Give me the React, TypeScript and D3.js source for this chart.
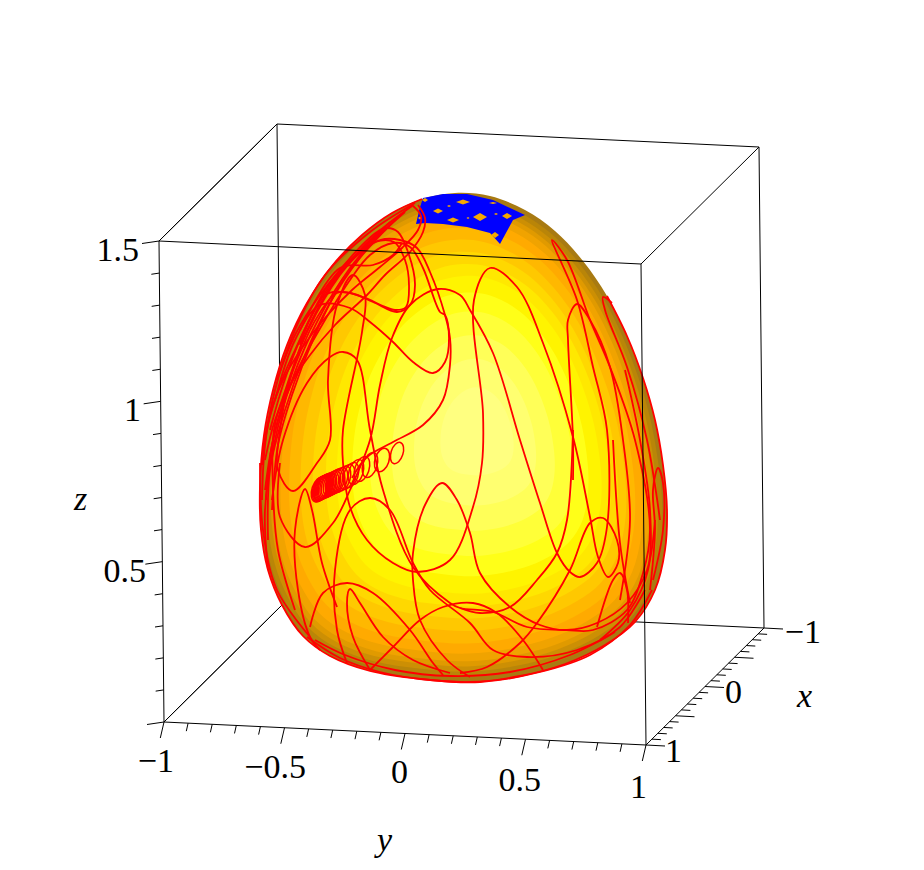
import * as d3 from "d3";

type Pair = [number, number];

// box axes
const xDomain = [-1, 1];
const yDomain = [-1, 1];
const zDomain = [0, 1.5];
const xMajor = [-1, -0.5, 0, 0.5, 1];
const yMajor = [-1, -0.5, 0, 0.5, 1];
const zMajor = [0, 0.5, 1, 1.5];
const xMinor = d3.range(-10, 11).map((d) => d / 10);
const yMinor = d3.range(-10, 11).map((d) => d / 10);
const zMinor = d3.range(0, 16).map((d) => d / 10);

// surface outline and every trace in view-plane units
const eggOutline: Pair[] = [[55,507],[90,504],[125,490],[155,469],[183,439],[207,404],[227,364],[243,322],[255,280],[263,235],[267,190],[265,150],[255,110],[235,78],[205,55],[165,36],[120,24],[70,18],[20,21],[-30,29],[-70,44],[-97,64],[-118,95],[-132,130],[-139,170],[-140,215],[-136,265],[-127,310],[-113,355],[-93,397],[-68,434],[-38,465],[-8,487],[22,501]];
const bandFactors = [1, 0.98, 0.96, 0.94, 0.92, 0.89, 0.85, 0.8, 0.75, 0.7, 0.65, 0.58, 0.5, 0.4, 0.3, 0.18];
const bandColors = ["#a87a12", "#b98508", "#cc8f04", "#e09a00", "#f0a300", "#ffaa00", "#ffb800", "#ffc800", "#ffd800", "#ffe800", "#fff400", "#ffff18", "#ffff38", "#ffff58", "#ffff70", "#ffff80"];
const highlight: Pair = [80, 270];
const rimCentre: Pair = [30, 280];

const strandA: Pair[] = [[-48,222],[-33,243],[-7,258],[23,275],[43,300],[50,335],[50,362],[45,385],[30,428],[17,452],[0,460],[-20,460],[-33,452],[-50,438],[-65,422],[-88,385],[-105,350],[-120,315],[-132,275],[-138,235]];
const strandB: Pair[] = [[-125,300],[-105,360],[-80,395],[-50,392],[-30,378],[-7,358],[13,338],[33,327],[45,338],[49,362],[45,385],[40,388],[23,432],[10,453],[-7,457],[-30,445],[-50,420],[-75,380],[-100,335],[-117,295],[-128,255],[-135,210]];
const hookA: Pair[] = [[18,495],[25,482],[23,468],[10,448],[-15,425],[-33,405],[-65,375],[-90,345],[-110,315],[-125,280],[-135,240]];
const hookB: Pair[] = [[12,495],[21,484],[18,470],[2,452],[-20,433],[-48,410],[-75,382],[-98,352],[-117,320],[-130,285],[-137,250]];
const loopC: Pair[] = [[-100,355],[-75,405],[-50,407],[-27,398],[-3,388],[10,395],[15,415],[8,448],[-2,468],[-13,472],[-23,468],[-50,442],[-75,410],[-100,360],[-117,315],[-130,270]];
const loopD: Pair[] = [[-90,370],[-63,407],[-37,403],[-17,394],[-5,390],[6,393],[9,415],[5,440],[-6,458],[-25,458],[-50,440],[-80,405],[-105,365],[-123,320]];
const arcTop: Pair[] = [[-100,370],[-60,432],[-27,435],[-7,445],[2,457]];
const longTrace: Pair[] = [[-120,237],[-120,183],[-95,153],[-67,177],[-50,210],[-30,260],[-20,315],[-8,362],[10,395],[38,411],[60,405],[70,390],[93,347],[120,260],[140,197],[157,147],[170,128],[180,123],[197,137],[207,173],[207,270],[193,333],[177,400],[152,460],[167,440],[190,380],[210,333],[235,260],[250,170],[243,127],[227,90],[193,70],[167,70],[127,73],[93,88],[60,92],[50,97],[13,133],[-17,210],[-30,270],[-43,340],[-57,348],[-70,343],[-93,317],[-117,260],[-128,200]];
const bumpTrace: Pair[] = [[60,27],[87,33],[120,57],[137,77],[170,130],[190,177],[203,182],[217,160],[218,137],[208,123],[198,143],[190,183],[173,263],[143,357],[117,413],[90,432],[74,400],[83,287],[82,237],[73,193],[50,140],[17,128],[-7,137],[-33,160],[-50,193],[-57,237],[-57,270],[-38,368],[-35,405],[-47,425],[-63,395],[-72,320],[-70,260],[-83,237],[-107,209],[-122,230],[-120,270],[-110,320],[-90,370]];
const lowBumpA: Pair[] = [[-53,37],[-63,70],[-65,130],[-50,190],[-30,202],[-10,190],[13,137],[30,110],[70,77],[93,50],[127,43],[177,50],[220,73],[245,110]];
const lowBumpB: Pair[] = [[70,23],[47,40],[20,80],[13,120],[13,147],[25,195],[42,217],[57,200],[70,167],[80,127],[110,93],[140,75],[167,70],[197,77],[227,97],[247,130],[255,180]];
const arcC: Pair[] = [[173,270],[167,180],[157,147],[137,120],[110,93],[80,87],[60,92]];
const lowArc: Pair[] = [[-90,73],[-77,107],[-53,117],[-27,107],[10,70],[33,37],[43,25]];
const bump350: Pair[] = [[-30,30],[-47,63],[-53,97],[-50,111],[-40,97],[-17,63],[13,40],[50,27]];
const riseArc: Pair[] = [[-30,30],[-7,53],[20,80],[43,93],[73,97],[97,87],[123,60],[143,30]];
const bump305: Pair[] = [[-80,50],[-90,63],[-102,110],[-105,170],[-95,211],[-88,190],[-78,137],[-63,93]];
const peak620: Pair[] = [[197,73],[213,120],[220,127],[227,110],[228,77]];
const line613: Pair[] = [[213,260],[220,157],[230,97]];
const peak577: Pair[] = [[173,220],[173,260],[168,360],[168,380],[177,396],[190,380],[210,333],[223,260],[230,180],[220,100]];
const peak603: Pair[] = [[260,180],[247,260],[227,333],[205,390],[203,403],[212,397]];
const loop658: Pair[] = [[253,120],[263,170],[263,217],[258,232],[253,210],[255,170],[250,110]];
const rightRim: Pair[] = [[225,330],[240,260],[250,190],[248,130],[230,90],[200,60]];
const bottomA: Pair[] = [[-93,63],[-60,42],[-20,28],[30,20],[80,18],[140,28],[190,45],[230,75],[252,110]];
const bottomB: Pair[] = [[-85,60],[-55,45],[-5,30],[50,24],[110,28],[170,45],[215,68]];
const fan1: Pair[] = [[15,497],[-30,468],[-75,425],[-105,370],[-125,310],[-135,255],[-138,200]];
const fan2: Pair[] = [[12,494],[-25,465],[-65,420],[-95,365],[-115,305],[-128,255],[-134,200]];
const fan3: Pair[] = [[5,488],[-28,457],[-60,415],[-85,365],[-108,305],[-122,255],[-128,190]];
const fan4: Pair[] = [[0,485],[-40,442],[-70,397],[-95,345],[-115,290],[-130,230],[-132,160]];
const fan5: Pair[] = [[-10,478],[-50,432],[-82,380],[-108,320],[-125,260],[-135,190],[-132,130]];
const fan6: Pair[] = [[-18,470],[-60,425],[-92,370],[-113,315],[-126,270],[-127,210],[-122,150],[-105,90]];
const leftLow: Pair[] = [[-140,237],[-137,170],[-123,110],[-90,63]];
const traces = [strandA, strandB, hookA, hookB, loopC, loopD, arcTop, longTrace, bumpTrace, lowBumpA, lowBumpB, arcC, lowArc, bump350, riseArc, bump305, peak620, line613, peak577, peak603, loop658, rightRim, bottomA, bottomB, fan1, fan2, fan3, fan4, fan5, fan6, leftLow];

// coil: centre u, centre v, radius u, radius v of each turn
const coilTurns: number[][] = [[-3,247,6,11],[-18,240,7,12],[-30,235,7,13],[-38,231,7,13],[-44,228,7,13],[-49,225,7,13],[-53,223,7,13],[-57,221.5,7,13],[-60,220,7,13],[-63,219,7,13],[-65,218,7,13],[-67,217,7,13],[-69,216,7,13],[-71,215,7,13],[-72.5,214.5,7,13],[-74,214,7,13],[-75,213.5,7,13],[-76,213,7,13],[-77,212.5,7,13],[-78,212,7,13],[-78.5,211.8,7,13],[-79,211.5,7,13],[-80,211,7,13],[-81,210.5,7,13]];

// blue cap and the gaps in it (centre u, centre v, half width, half height)
const capOutline: Pair[] = [[23,502],[43,506],[67,506],[93,500],[125,485],[113,480],[100,456],[90,467],[67,473],[43,476],[25,477],[16,476],[20,493]];
const capGaps: number[][] = [[63,498,7,2.5],[80,483,7,4],[107,484,5,3],[95,465,4,3],[53,480,6,2.5],[38,489,5,2.5],[49,494,2,1],[93,497,4,1],[25,500,3,2],[20,482,2,1.5],[68,482,1.5,1],[96,486,2,1]];

// view plane
const planeU = d3.scaleLinear().domain([-400, 524]).range([0, 924]);
const planeV = d3.scaleLinear().domain([700, -170]).range([0, 870]);

// box projection, one scale per axis and screen direction
const xPx = d3.scaleLinear().domain(xDomain).range([59, -59]);
const xPy = d3.scaleLinear().domain(xDomain).range([-58.5, 58.5]);
const yPx = d3.scaleLinear().domain(yDomain).range([-241, 241]);
const yPy = d3.scaleLinear().domain(yDomain).range([-11.5, 11.5]);
const zPx = d3.scaleLinear().domain(zDomain).range([0, -5]);
const zPy = d3.scaleLinear().domain(zDomain).range([0, -481]);
const project = (x: number, y: number, z: number): Pair => [
  464 + xPx(x) + yPx(y) + zPx(z),
  675 + xPy(x) + yPy(y) + zPy(z),
];

const toPlane = (p: Pair): Pair => [planeU(p[0]), planeV(p[1])];
const smooth = d3.line().curve(d3.curveCatmullRom.alpha(0.5));
const closed = d3.line().curve(d3.curveCatmullRomClosed.alpha(0.5));
const straightClosed = d3.line().curve(d3.curveLinearClosed);

const edge = (a: Pair, b: Pair, key: string, width = 1) => (
  <line key={key} x1={a[0]} y1={a[1]} x2={b[0]} y2={b[1]} stroke="#000" strokeWidth={width} />
);

const isMajor = (v: number, list: number[]) => list.some((m) => Math.abs(m - v) < 1e-6);

const backEdges: [number, number, number, number, number, number][] = [
  [-1, -1, 1.5, 1, -1, 1.5],
  [-1, -1, 1.5, -1, -1, 0],
  [-1, 1, 1.5, -1, 1, 0],
  [-1, -1, 0, 1, -1, 0],
  [-1, -1, 0, -1, 1, 0],
  [-1, -1, 1.5, -1, 1, 1.5],
  [1, -1, 1.5, -1, -1, 1.5],
  [1, 1, 1.5, -1, 1, 1.5],
  [1, -1, 0, -1, -1, 0],
];
const frontEdges: [number, number, number, number, number, number][] = [
  [1, -1, 1.5, 1, 1, 1.5],
  [1, 1, 1.5, 1, 1, 0],
  [1, -1, 1.5, 1, -1, 0],
  [1, -1, 0, 1, 1, 0],
  [1, 1, 0, -1, 1, 0],
];

const serif = "'Liberation Serif', 'Times New Roman', serif";

const labels: { t: string; x: number; y: number }[] = [
  { t: "1.5", x: 139, y: 261 },
  { t: "1", x: 141, y: 421 },
  { t: "0.5", x: 146, y: 582 },
  { t: "\u22121", x: 174, y: 772 },
  { t: "\u22120.5", x: 306, y: 778 },
  { t: "0", x: 408, y: 783 },
  { t: "0.5", x: 541, y: 791 },
  { t: "1", x: 647, y: 798 },
  { t: "\u22121", x: 821, y: 643 },
  { t: "0", x: 742, y: 703 },
  { t: "1", x: 682, y: 762 },
];
const axisNames: { t: string; x: number; y: number }[] = [
  { t: "x", x: 797, y: 707 },
  { t: "y", x: 377, y: 851 },
  { t: "z", x: 74, y: 510 },
];

export default function App() {
  const outlinePx = eggOutline.map(toPlane);
  const rim = outlinePx.slice(5);
  // band centre drifts from the highlight to the rim centre as bands grow
  const bandU = d3.scaleLinear().domain([0, 0.7, 1]).range([highlight[0], highlight[0], rimCentre[0]]);
  const bandV = d3.scaleLinear().domain([0, 0.7, 1]).range([highlight[1], highlight[1], rimCentre[1]]);

  return (
    <svg width={924} height={870} style={{ position: "absolute", left: 0, top: 0, background: "#fff" }}>
      <g>{backEdges.map((e, i) => edge(project(e[0], e[1], e[2]), project(e[3], e[4], e[5]), `b${i}`))}</g>

      <g>
        {bandFactors.map((f, i) => {
          const [cx, cy] = toPlane([bandU(f), bandV(f)]);
          return (
            <path
              key={i}
              d={closed(outlinePx.map((p) => [cx + (p[0] - cx) * f, cy + (p[1] - cy) * f] as Pair)) || ""}
              fill={bandColors[i]}
            />
          );
        })}
      </g>

      <path d={straightClosed(capOutline.map(toPlane)) || ""} fill="#0000ff" />
      <g fill="#f5a800">
        {capGaps.map((g, i) => {
          const [cx, cy] = toPlane([g[0], g[1]]);
          return <path key={i} d={`M${cx - g[2]},${cy}L${cx},${cy - g[3]}L${cx + g[2]},${cy}L${cx},${cy + g[3]}Z`} />;
        })}
      </g>

      <g fill="none" stroke="#ff0000" strokeWidth={1.8}>
        <path d={smooth(rim) || ""} />
        {traces.map((t, i) => (
          <path key={i} d={smooth(t.map(toPlane)) || ""} />
        ))}
        {coilTurns.map((c, i) => {
          const [cx, cy] = toPlane([c[0], c[1]]);
          return <ellipse key={i} cx={cx} cy={cy} rx={c[2]} ry={c[3]} transform={`rotate(18 ${cx} ${cy})`} strokeWidth={1.5} />;
        })}
      </g>

      <g>{frontEdges.map((e, i) => edge(project(e[0], e[1], e[2]), project(e[3], e[4], e[5]), `f${i}`))}</g>

      <g stroke="#000" strokeWidth={1}>
        {zMinor.map((z) => {
          const [px, py] = project(1, -1, z);
          const big = isMajor(z, zMajor);
          return <line key={`z${z}`} x1={px} y1={py} x2={px - (big ? 17 : 8)} y2={py + (big ? 2.5 : 1.2)} />;
        })}
        {yMinor.map((y) => {
          const [px, py] = project(1, y, 0);
          const big = isMajor(y, yMajor);
          return <line key={`y${y}`} x1={px} y1={py} x2={px - (big ? 3.7 : 1.8)} y2={py + (big ? 16 : 8)} />;
        })}
        {xMinor.map((x) => {
          const [px, py] = project(x, 1, 0);
          const big = isMajor(x, xMajor);
          return <line key={`x${x}`} x1={px} y1={py} x2={px + (big ? 19 : 9)} y2={py + (big ? 1 : 0.5)} />;
        })}
      </g>

      <g fontFamily={serif} fontSize={34} fill="#000" textAnchor="end">
        {labels.map((l, i) => (
          <text key={i} x={l.x} y={l.y}>{l.t}</text>
        ))}
      </g>
      <g fontFamily={serif} fontSize={34} fontStyle="italic" fill="#000">
        {axisNames.map((l) => (
          <text key={l.t} x={l.x} y={l.y}>{l.t}</text>
        ))}
      </g>
    </svg>
  );
}
